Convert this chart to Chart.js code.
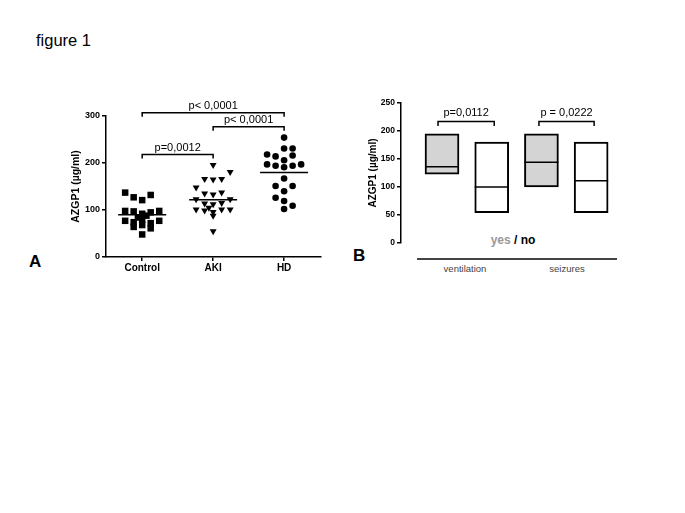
<!DOCTYPE html>
<html>
<head>
<meta charset="utf-8">
<script src="https://cdn.jsdelivr.net/npm/chart.js@4/dist/chart.umd.min.js"></script>
<style>
body{margin:0;background:#fff;width:685px;height:513px;position:relative;overflow:hidden;font-family:"Liberation Sans",Arial,sans-serif}
canvas{position:absolute}
.t{position:absolute;line-height:1;white-space:nowrap}
</style>
</head>
<body>
<div class="t" style="left:36px;top:32px;font-size:16.5px;color:#000">figure 1</div>
<div class="t" style="left:29px;top:253px;font-size:17px;font-weight:bold">A</div>
<div class="t" style="left:353px;top:247px;font-size:17px;font-weight:bold">B</div>
<div class="t" style="left:463px;top:234px;width:100px;text-align:center;font-size:12px;font-weight:bold"><span style="color:#999">yes</span> / no</div>
<div style="position:absolute;left:417px;top:258px;width:200px;height:2px;background:#444"></div>
<div class="t" style="left:425px;top:264px;width:80px;text-align:center;font-size:9.5px;color:#444">ventilation</div>
<div class="t" style="left:527px;top:264px;width:80px;text-align:center;font-size:9.5px;color:#444">seizures</div>
<canvas id="chartA" width="335" height="200" style="left:0;top:80px"></canvas>
<canvas id="chartB" width="300" height="200" style="left:340px;top:80px"></canvas>
<script>
// panel A: values per group, col = jitter column (-2..2)
var groups = ['Control', 'AKI', 'HD'];
var controlVals = [137,127,121,132, 98,97,92,95,98, 88,84, 77,74,79,72,77, 64,68,61, 48];
var controlCols = [-2,-1,0,1, -2,-1,0,1,2, 0.5,-0.5, -2,-1,0,1,2, -1,0,1, 0];
var akiVals = [196,181,166,165,166,148,135,133,137,123,123,114,112,115,101,99,96,101,101,105,88,55];
var akiCols = [0,2,-1,0,1,-2,-1,0,1,-2,2,-1,0,1,-2,-1,0,1,2,-0.5,0,0];
var hdVals = [254,231,231,218,214,216,206,197,194,191,194,197,167,151,151,140,126,119,109,102];
var hdCols = [0,0,1,-2,-1,1,0,-2,-1,0,1,2,0,-1,1,0,-1,0,1,0];
var medians = [90, 122, 180];
var bracketsA = [
  {a: 1, b: 3, level: 307, text: 'p< 0,0001'},
  {a: 2, b: 3, level: 277, text: 'p< 0,0001'},
  {a: 1, b: 2, level: 218, text: 'p=0,0012'}
];

// panel B: boxes (min, max, median)
var bLabels = ['ventilation yes', 'ventilation no', 'seizures yes', 'seizures no'];
var boxLow = [123, 54, 100, 54];
var boxHigh = [195, 180, 195, 180];
var boxMed = [136, 100, 144, 111];
var bracketsB = [
  {a: 0.92, b: 2.05, level: 217, text: 'p=0,0112'},
  {a: 2.95, b: 4.06, level: 217, text: 'p = 0,0222'}
];

Chart.defaults.font.family = '"Liberation Sans", Arial, sans-serif';
Chart.defaults.color = '#000';

function pts(vals, cols, center){
  var out = [];
  for (var i = 0; i < vals.length; i++) out.push({x: center + cols[i] * 0.12, y: vals[i]});
  return out;
}
function bracketSets(list, leg){
  return list.map(function(b){
    return {type: 'line', data: [{x: b.a, y: b.level - leg}, {x: b.a, y: b.level}, {x: b.b, y: b.level}, {x: b.b, y: b.level - leg}],
      borderColor: '#000', borderWidth: 1.5, pointRadius: 0, fill: false, clip: false, tension: 0};
  });
}
var pvalPlugin = {
  id: 'pvals',
  afterDatasetsDraw: function(chart, args, opts){
    var ctx = chart.ctx, xs = chart.scales.x, ys = chart.scales.y;
    ctx.save();
    ctx.font = '11px "Liberation Sans", Arial, sans-serif';
    ctx.fillStyle = '#000';
    ctx.textAlign = 'center';
    ctx.textBaseline = 'alphabetic';
    opts.items.forEach(function(b){
      var x = (xs.getPixelForValue(b.a) + xs.getPixelForValue(b.b)) / 2;
      ctx.fillText(b.text, x, ys.getPixelForValue(b.level) - opts.gap);
    });
    ctx.restore();
  }
};

var dsA = [
  {type: 'line', showLine: false, data: pts(controlVals, controlCols, 1), pointStyle: 'rect', pointRadius: 4.6, backgroundColor: '#000', borderColor: '#000', borderWidth: 0},
  {type: 'line', showLine: false, data: pts(akiVals, akiCols, 2), pointStyle: 'triangle', rotation: 180, pointRadius: 4, backgroundColor: '#000', borderColor: '#000', borderWidth: 0},
  {type: 'line', showLine: false, data: pts(hdVals, hdCols, 3), pointStyle: 'circle', pointRadius: 3.3, backgroundColor: '#000', borderColor: '#000', borderWidth: 0},
  {type: 'line', showLine: false, data: medians.map(function(m, i){ return {x: i + 1, y: m}; }), pointStyle: 'line', pointRadius: 24, borderColor: '#000', borderWidth: 1.5}
].concat(bracketSets(bracketsA, 8.5));

new Chart(document.getElementById('chartA'), {
  type: 'line',
  data: {datasets: dsA},
  plugins: [pvalPlugin],
  options: {
    responsive: false, animation: false,
    layout: {autoPadding: false, padding: {left: 66, top: 36, right: 14, bottom: 0}},
    plugins: {legend: {display: false}, tooltip: {enabled: false}, pvals: {items: bracketsA, gap: 4}},
    scales: {
      x: {type: 'linear', min: 0.49, max: 3.52,
        afterBuildTicks: function(s){ s.ticks = [1, 2, 3].map(function(v){ return {value: v}; }); },
        afterFit: function(s){ s.height = 23; },
        grid: {drawOnChartArea: false, drawTicks: true, tickLength: 4, color: '#000', lineWidth: 1.5},
        border: {color: '#000', width: 1.5},
        ticks: {padding: 1, font: {size: 10, weight: 'bold'}, color: '#000', callback: function(v){ return groups[v - 1]; }}
      },
      y: {min: 0, max: 300,
        afterFit: function(s){ s.width = 40; },
        grid: {drawOnChartArea: false, drawTicks: true, tickLength: 4, color: '#000', lineWidth: 1.5},
        border: {color: '#000', width: 1.5},
        ticks: {stepSize: 100, padding: 2, font: {size: 9, weight: 'bold'}, color: '#000'},
        title: {display: true, text: 'AZGP1 (µg/ml)', font: {size: 10.5, weight: 'bold'}, color: '#000', padding: {top: 4, bottom: 4}}
      }
    }
  }
});

var dsB = [
  {type: 'bar', order: 1, data: boxLow.map(function(lo, i){ return {x: i + 1, y: [lo, boxHigh[i]]}; }),
    backgroundColor: ['#d4d4d4', '#fff', '#d4d4d4', '#fff'], borderColor: '#000', borderWidth: 2, borderSkipped: false, barThickness: 34},
  {type: 'line', order: 0, showLine: false, data: boxMed.map(function(m, i){ return {x: i + 1, y: m}; }), pointStyle: 'line', pointRadius: 17, borderColor: '#000', borderWidth: 1.5}
].concat(bracketSets(bracketsB, 8));

new Chart(document.getElementById('chartB'), {
  type: 'bar',
  data: {datasets: dsB},
  plugins: [pvalPlugin],
  options: {
    responsive: false, animation: false,
    layout: {autoPadding: false, padding: {left: 23, top: 23, right: 24, bottom: 37}},
    plugins: {legend: {display: false}, tooltip: {enabled: false}, pvals: {items: bracketsB, gap: 5.5}},
    scales: {
      x: {type: 'linear', min: 0.175, max: 4.5, display: false, offset: false},
      y: {min: 0, max: 250,
        afterFit: function(s){ s.width = 38; },
        grid: {drawOnChartArea: false, drawTicks: true, tickLength: 4, color: '#000', lineWidth: 1.5},
        border: {color: '#000', width: 1.5},
        ticks: {stepSize: 50, padding: 2, font: {size: 8.5, weight: 'bold'}, color: '#000'},
        title: {display: true, text: 'AZGP1 (µg/ml)', font: {size: 10, weight: 'bold'}, color: '#000', padding: {top: 4, bottom: 4}}
      }
    }
  }
});
</script>
</body>
</html>
